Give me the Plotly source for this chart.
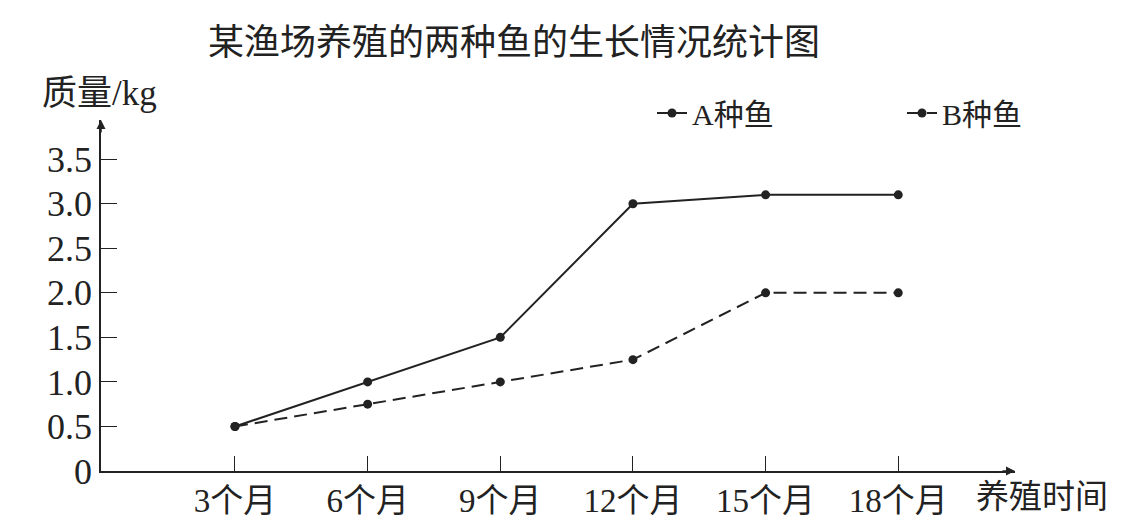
import plotly.graph_objects as go

# data
months = ["3个月", "6个月", "9个月", "12个月", "15个月", "18个月"]
fish_a = [0.5, 1.0, 1.5, 3.0, 3.1, 3.1]
fish_b = [0.5, 0.75, 1.0, 1.25, 2.0, 2.0]
y_ticks = [0, 0.5, 1.0, 1.5, 2.0, 2.5, 3.0, 3.5]
y_tick_text = ["0", "0.5", "1.0", "1.5", "2.0", "2.5", "3.0", "3.5"]

INK = "#222222"
FONT = "Liberation Serif, Times New Roman, Noto Sans CJK SC, serif"
SANS = "Noto Sans CJK SC, sans-serif"

W, H = 1132, 531
OFF = 8  # page body margin: screen px = figure px + OFF

# plot area in screen pixels
X0, X1, Y0, Y1 = 101, 1015, 120, 471
L, R = X0 - OFF, W - (X1 - OFF)
T, B = Y0 - OFF, H - (Y1 - OFF)
pw, ph = W - L - R, H - T - B


def px(x):
    return (x - X0) / pw


def py(y):
    return (Y1 - y) / ph


fig = go.Figure()
fig.add_trace(go.Scatter(
    x=months, y=fish_a, name="A种鱼", mode="lines+markers",
    line=dict(color=INK, width=2),
    marker=dict(color=INK, size=9),
    legend="legend",
))
fig.add_trace(go.Scatter(
    x=months, y=fish_b, name="B种鱼", mode="lines+markers",
    line=dict(color=INK, width=2, dash="13px,7px"),
    marker=dict(color=INK, size=9),
    legend="legend2",
))

fig.update_xaxes(
    type="category", range=[-1.01, 5.88],
    showline=True, linecolor=INK, linewidth=1.5,
    ticks="inside", ticklen=15, tickcolor=INK, tickwidth=1,
    showgrid=False, zeroline=False,
    tickfont=dict(family=FONT, size=33, color=INK),
)
fig.update_yaxes(
    range=[0, 3.94],
    tickvals=y_ticks, ticktext=y_tick_text,
    showline=True, linecolor=INK, linewidth=1.5,
    ticks="inside", ticklen=16, tickcolor=INK, tickwidth=1,
    showgrid=False, zeroline=False,
    tickfont=dict(family=FONT, size=36, color=INK),
)

annotations = [
    # axis arrows
    dict(x=0, y=1, xref="paper", yref="paper", text="", showarrow=True,
         ax=0, ay=14, arrowhead=2, arrowsize=1.2, arrowwidth=1.5, arrowcolor=INK),
    dict(x=1, y=0, xref="paper", yref="paper", text="", showarrow=True,
         ax=-14, ay=0, arrowhead=2, arrowsize=1.2, arrowwidth=1.5, arrowcolor=INK),
    # axis titles
    dict(x=px(40), y=py(93), xref="paper", yref="paper", text="质量/kg",
         showarrow=False, font=dict(family=FONT, size=35, color=INK),
         xanchor="left", yanchor="middle"),
    dict(x=px(974), y=py(497), xref="paper", yref="paper", text="养殖时间",
         showarrow=False, font=dict(family=FONT, size=33, color=INK),
         xanchor="left", yanchor="middle"),
]

legend_style = dict(
    orientation="h", xanchor="left", yanchor="middle",
    font=dict(family=FONT, size=30, color=INK),
    bgcolor="rgba(0,0,0,0)",
)

fig.update_layout(
    width=W, height=H,
    margin=dict(l=L, r=R, t=T, b=B, autoexpand=False),
    paper_bgcolor="white", plot_bgcolor="white",
    title=dict(text="某渔场养殖的两种鱼的生长情况统计图",
               x=px(514), xref="paper", xanchor="center",
               y=(H - (42 - OFF)) / H, yanchor="middle",
               font=dict(family=SANS, size=36, color=INK)),
    legend=dict(x=px(652), y=py(113), **legend_style),
    legend2=dict(x=px(902), y=py(113), **legend_style),
    annotations=annotations,
    showlegend=True,
)

fig.write_html("out.html")
